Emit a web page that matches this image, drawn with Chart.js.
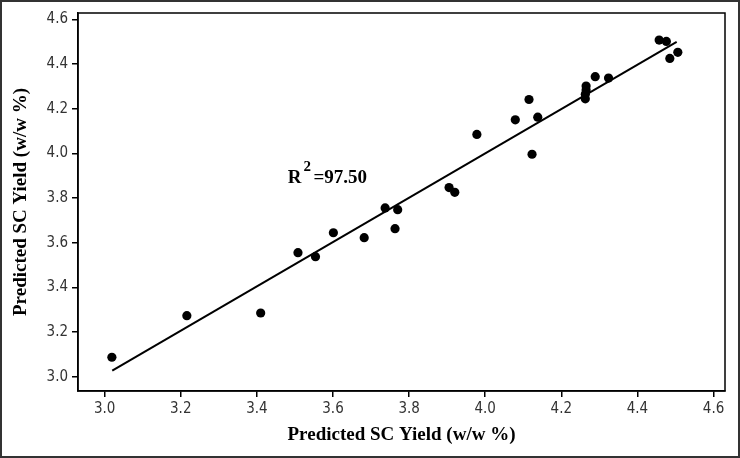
<!DOCTYPE html>
<html>
<head>
<meta charset="utf-8">
<script src="https://cdn.jsdelivr.net/npm/chart.js@4/dist/chart.umd.min.js"></script>
<style>
  html, body { margin: 0; padding: 0; background: #fff; }
  canvas { display: block; }
</style>
</head>
<body>
<canvas id="chart" width="740" height="458"></canvas>
<script>
// ===== data =====
const actualX = [3.019, 3.216, 3.410, 3.508, 3.554, 3.601, 3.682, 3.737, 3.770, 3.763,
                 3.905, 3.920, 3.978, 4.079, 4.115, 4.123, 4.138, 4.265, 4.265, 4.263,
                 4.263, 4.289, 4.324, 4.457, 4.476, 4.485, 4.506];
const predictedY = [3.088, 3.274, 3.286, 3.556, 3.538, 3.645, 3.623, 3.756, 3.748, 3.663,
                    3.847, 3.826, 4.085, 4.150, 4.241, 3.996, 4.162, 4.301, 4.283, 4.264,
                    4.244, 4.343, 4.337, 4.507, 4.501, 4.425, 4.452];

// fitted line end points
const fitX = [3.02, 4.503];
const fitY = [3.028, 4.499];

const xTicks = [3.0, 3.2, 3.4, 3.6, 3.8, 4.0, 4.2, 4.4, 4.6];
const yTicks = [3.0, 3.2, 3.4, 3.6, 3.8, 4.0, 4.2, 4.4, 4.6];

const axisTitle = 'Predicted SC Yield (w/w %)';
const r2Text = { base: 'R', sup: '2', rest: '=97.50', x: 3.481, y: 3.867 };

// ===== helpers =====
function points(xs, ys) {
  return xs.map((x, i) => ({ x: x, y: ys[i] }));
}

// frame round the plot area, outer border, R^2 note
const framePlugin = {
  id: 'frame',
  beforeDraw(chart) {
    const ctx = chart.ctx;
    ctx.save();
    ctx.fillStyle = '#fff';
    ctx.fillRect(0, 0, chart.width, chart.height);
    ctx.strokeStyle = '#333';
    ctx.lineWidth = 2;
    ctx.strokeRect(1, 1, chart.width - 2, chart.height - 2);
    ctx.restore();
  },
  afterDraw(chart) {
    const ctx = chart.ctx;
    const a = chart.chartArea;
    ctx.save();
    ctx.strokeStyle = '#000';
    ctx.lineWidth = 1.5;
    ctx.strokeRect(a.left, a.top, a.right - a.left, a.bottom - a.top);

    const px = chart.scales.x.getPixelForValue(r2Text.x);
    const py = chart.scales.y.getPixelForValue(r2Text.y);
    ctx.fillStyle = '#000';
    ctx.textBaseline = 'alphabetic';
    ctx.font = 'bold 19px "Liberation Serif"';
    ctx.fillText(r2Text.base, px, py);
    let w = ctx.measureText(r2Text.base).width;
    ctx.font = 'bold 15px "Liberation Serif"';
    ctx.fillText(r2Text.sup, px + w + 2, py - 12);
    ctx.font = 'bold 19px "Liberation Serif"';
    ctx.fillText(r2Text.rest, px + w + 12, py);
    ctx.restore();
  }
};

// ===== chart =====
new Chart(document.getElementById('chart'), {
  type: 'scatter',
  data: {
    datasets: [
      {
        label: 'Runs',
        data: points(actualX, predictedY),
        backgroundColor: '#000',
        borderWidth: 0,
        pointRadius: 4.6,
        pointHoverRadius: 4.6
      },
      {
        type: 'line',
        label: 'Fit',
        data: points(fitX, fitY),
        borderColor: '#000',
        borderWidth: 2,
        pointRadius: 0,
        fill: false
      }
    ]
  },
  options: {
    responsive: false,
    animation: false,
    layout: { padding: { left: 0, top: 13, right: 15, bottom: 0 } },
    plugins: {
      legend: { display: false },
      tooltip: { enabled: false }
    },
    scales: {
      x: {
        type: 'linear',
        min: 2.93,
        max: 4.63,
        afterFit(s) { s.height = 67; },
        afterBuildTicks(s) { s.ticks = xTicks.map(v => ({ value: v })); },
        grid: { drawOnChartArea: false, drawTicks: true, tickLength: 6, color: '#000', lineWidth: 1.5 },
        border: { display: true, color: '#000', width: 1.5 },
        ticks: {
          padding: 3,
          color: '#333',
          font: { family: '"DejaVu Sans Condensed"', size: 15 },
          callback: v => Number(v).toFixed(1)
        },
        title: {
          display: true,
          text: axisTitle,
          color: '#000',
          padding: { top: 0, bottom: 12 },
          font: { family: '"Liberation Serif"', size: 19, weight: 'bold' }
        }
      },
      y: {
        type: 'linear',
        min: 2.937,
        max: 4.628,
        afterFit(s) { s.width = 78; },
        afterBuildTicks(s) { s.ticks = yTicks.map(v => ({ value: v })); },
        grid: { drawOnChartArea: false, drawTicks: true, tickLength: 6, color: '#000', lineWidth: 1.5 },
        border: { display: true, color: '#000', width: 1.5 },
        ticks: {
          padding: 4,
          color: '#333',
          font: { family: '"DejaVu Sans Condensed"', size: 15 },
          callback: v => Number(v).toFixed(1)
        },
        title: {
          display: true,
          text: axisTitle,
          color: '#000',
          padding: { top: 10, bottom: 10 },
          font: { family: '"Liberation Serif"', size: 19, weight: 'bold' }
        }
      }
    }
  },
  plugins: [framePlugin]
});
</script>
</body>
</html>
